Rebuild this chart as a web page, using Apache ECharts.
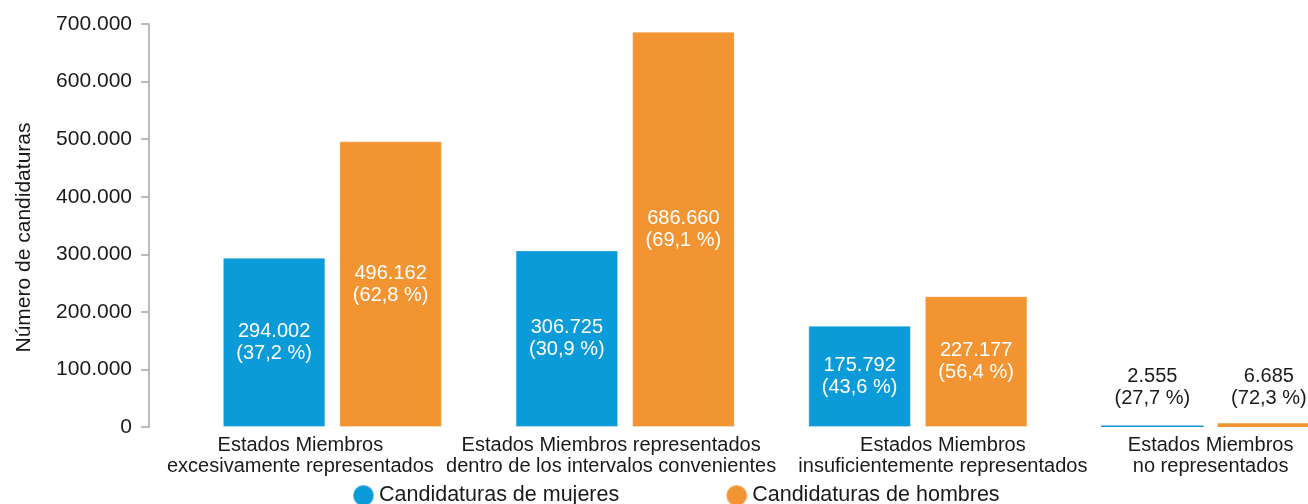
<!DOCTYPE html>
<html>
<head>
<meta charset="utf-8">
<script src="https://cdn.jsdelivr.net/npm/echarts@6/dist/echarts.min.js"></script>
<style>
  html, body { margin: 0; padding: 0; background: #fff; }
  #main { width: 1308px; height: 504px; }
</style>
</head>
<body>
<div id="main"></div>
<script>
let categories = [
  'Estados Miembros\nexcesivamente representados',
  'Estados Miembros representados\ndentro de los intervalos convenientes',
  'Estados Miembros\ninsuficientemente representados',
  'Estados Miembros\nno representados'
];
let mujeres = [294002, 306725, 175792, 2555];
let hombres = [496162, 686660, 227177, 6685];
let pctMujeres = ['37,2', '30,9', '43,6', '27,7'];
let pctHombres = ['62,8', '69,1', '56,4', '72,3'];
let yTicks = [0, 100000, 200000, 300000, 400000, 500000, 600000, 700000];

// label shift per category (px), the original labels are not centred on the bars
let labelShift = [-32, -14, 25, 0];

let font = '"Liberation Sans", Arial, sans-serif';
let blue = '#0A9BD8';
let orange = '#F29432';
let ink = '#1a1a1a';

function fmt(v) {
  return v.toString().replace(/\B(?=(\d{3})+(?!\d))/g, '.');
}

let rich = {};
labelShift.forEach(function (s, i) {
  rich['c' + i] = {
    fontFamily: font,
    fontSize: 20,
    lineHeight: 21,
    color: ink,
    padding: s < 0 ? [0, -2 * s, 0, 0] : [0, 0, 0, 2 * s]
  };
});

function barLabel(pcts) {
  return function (p) {
    return fmt(p.value) + '\n(' + pcts[p.dataIndex] + ' %)';
  };
}

function barData(values, dist) {
  return values.map(function (v, i) {
    if (i !== 3) return v;
    return {
      value: v,
      itemStyle: { borderWidth: 0 },
      label: { position: 'top', distance: dist, color: ink }
    };
  });
}

let chart = echarts.init(document.getElementById('main'));
let option = {
  animation: false,
  textStyle: { fontFamily: font },
  grid: { left: 186, width: 1171, top: 24, bottom: 77, outerBoundsMode: 'none', containLabel: false },
  legend: {
    top: 479,
    left: 347,
    itemGap: 106,
    itemWidth: 21,
    itemHeight: 21,
    icon: 'circle',
    textStyle: { fontSize: 21.5, color: ink, fontFamily: font },
    data: ['Candidaturas de mujeres', 'Candidaturas de hombres']
  },
  xAxis: {
    type: 'category',
    data: categories,
    axisLine: { show: false },
    axisTick: { show: false },
    axisLabel: {
      margin: 8,
      interval: 0,
      formatter: function (v, i) {
        return v.split('\n').map(function (l) { return '{c' + i + '|' + l + '}'; }).join('\n');
      },
      rich: rich
    }
  },
  yAxis: {
    type: 'value',
    min: 0,
    max: yTicks[yTicks.length - 1],
    interval: yTicks[1] - yTicks[0],
    offset: 37,
    name: 'Número de candidaturas',
    nameLocation: 'middle',
    nameGap: 114,
    nameTextStyle: { fontSize: 21, color: ink, fontFamily: font, padding: [0, 24, 0, 0] },
    axisLine: { show: true, lineStyle: { color: '#a6a6a6', width: 1.5 } },
    axisTick: { show: true, length: 8, lineStyle: { color: '#a6a6a6', width: 1.5 } },
    splitLine: { show: false },
    axisLabel: {
      margin: 17,
      fontSize: 21,
      color: ink,
      fontFamily: font,
      formatter: function (v) { return fmt(v); }
    }
  },
  series: [
    {
      name: 'Candidaturas de mujeres',
      type: 'bar',
      barWidth: 102.5,
      barGap: '13.7%',
      itemStyle: { color: blue, borderColor: 'rgba(255,255,255,0.3)', borderWidth: 1 },
      label: {
        show: true,
        position: 'inside',
        color: '#fff',
        fontSize: 20,
        lineHeight: 22,
        fontFamily: font,
        formatter: barLabel(pctMujeres)
      },
      data: barData(mujeres, 16)
    },
    {
      name: 'Candidaturas de hombres',
      type: 'bar',
      barWidth: 102.5,
      itemStyle: { color: orange, borderColor: 'rgba(255,255,255,0.3)', borderWidth: 1 },
      label: {
        show: true,
        position: 'inside',
        color: '#fff',
        fontSize: 20,
        lineHeight: 22,
        fontFamily: font,
        formatter: barLabel(pctHombres)
      },
      data: barData(hombres, 14)
    }
  ]
};
chart.setOption(option);
</script>
</body>
</html>
